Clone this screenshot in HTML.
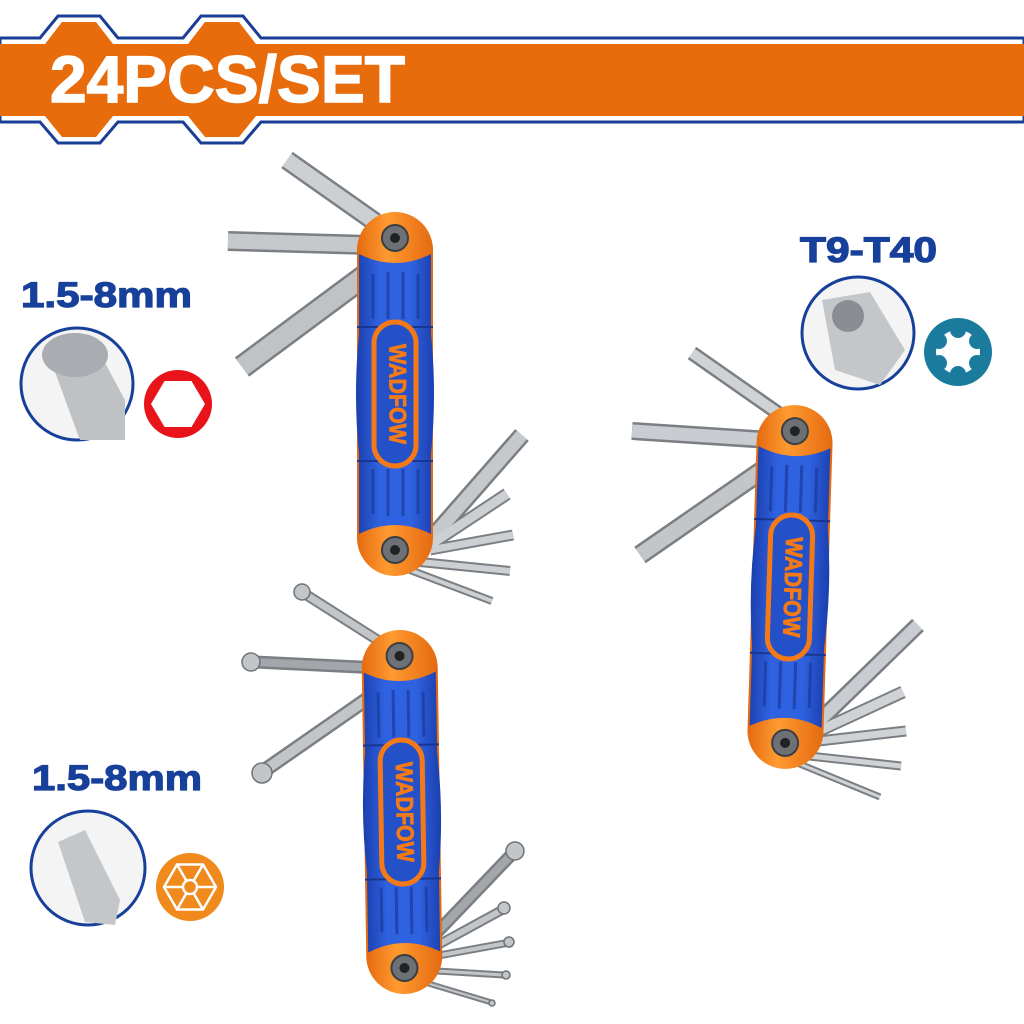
<!DOCTYPE html>
<html><head><meta charset="utf-8"><style>
html,body{margin:0;padding:0;background:#fff;}
svg{display:block;}
</style></head><body>
<svg width="1024" height="1024" viewBox="0 0 1024 1024" xmlns="http://www.w3.org/2000/svg">
<defs>
<linearGradient id="blueg" x1="0" y1="0" x2="1" y2="0">
<stop offset="0" stop-color="#1b3fae"/><stop offset="0.3" stop-color="#2f62e0"/><stop offset="0.7" stop-color="#2f62e0"/><stop offset="1" stop-color="#1b3fae"/>
</linearGradient>
<linearGradient id="orgg" x1="0" y1="0" x2="1" y2="0">
<stop offset="0" stop-color="#e46a10"/><stop offset="0.4" stop-color="#ff9a30"/><stop offset="1" stop-color="#e46a10"/>
</linearGradient>
<g id="handle">
<rect x="-38" y="-182" width="76" height="364" rx="38" fill="url(#orgg)"/>
<path d="M-36,-140 Q0,-122 36,-140 L36,-60 Q42,0 36,60 L36,140 Q0,122 -36,140 L-36,60 Q-42,0 -36,-60 Z" fill="url(#blueg)"/>
<g stroke="#1a3a9c" stroke-width="3" opacity="0.7">
<line x1="-22" y1="-120" x2="-22" y2="-75"/><line x1="-7" y1="-122" x2="-7" y2="-75"/><line x1="8" y1="-122" x2="8" y2="-75"/><line x1="23" y1="-120" x2="23" y2="-75"/>
<line x1="-22" y1="120" x2="-22" y2="75"/><line x1="-7" y1="122" x2="-7" y2="75"/><line x1="8" y1="122" x2="8" y2="75"/><line x1="23" y1="120" x2="23" y2="75"/>
</g>
<line x1="-38" y1="-67" x2="38" y2="-67" stroke="#18368f" stroke-width="2"/>
<line x1="-38" y1="67" x2="38" y2="67" stroke="#18368f" stroke-width="2"/>
<rect x="-21" y="-72" width="42" height="144" rx="21" fill="#2451c8" stroke="#f47a18" stroke-width="5"/>
<text transform="rotate(90)" x="0" y="-1" text-anchor="middle" dominant-baseline="middle" font-family="Liberation Sans, sans-serif" font-weight="bold" font-size="24" fill="#f47a18" stroke="#f47a18" stroke-width="0.8" textLength="100" lengthAdjust="spacingAndGlyphs">WADFOW</text>
<circle cx="0" cy="-156" r="13" fill="#6d7176" stroke="#3b3e42" stroke-width="2"/><circle cx="0" cy="-156" r="5" fill="#222"/>
<circle cx="0" cy="156" r="13" fill="#6d7176" stroke="#3b3e42" stroke-width="2"/><circle cx="0" cy="156" r="5" fill="#222"/>
</g>
</defs>

<!-- Banner -->
<path d="M0,38 L40,38 L58,16 L100,16 L118,38 L183,38 L201,16 L243,16 L261,38 L1024,38 L1024,122 L261,122 L243,143 L201,143 L183,122 L118,122 L100,143 L58,143 L40,122 L0,122 Z" fill="#fff" stroke="#1a3d96" stroke-width="3"/>
<path d="M0,44 L45,44 L62,22 L96,22 L113,44 L188,44 L205,22 L239,22 L256,44 L1024,44 L1024,116 L256,116 L239,137 L205,137 L188,116 L113,116 L96,137 L62,137 L45,116 L0,116 Z" fill="#e86b0c"/>
<text x="50" y="102" font-family="Liberation Sans, sans-serif" font-weight="bold" font-size="66" fill="#fff" stroke="#fff" stroke-width="1.5" textLength="355" lengthAdjust="spacingAndGlyphs">24PCS/SET</text>

<!-- Labels -->
<g font-family="Liberation Sans, sans-serif" font-weight="bold" fill="#17409a" stroke="#17409a" stroke-width="1.2">
<text x="21" y="307" font-size="35" textLength="171" lengthAdjust="spacingAndGlyphs">1.5-8mm</text>
<text x="800" y="262" font-size="35" textLength="137" lengthAdjust="spacingAndGlyphs">T9-T40</text>
<text x="32" y="790" font-size="35" textLength="170" lengthAdjust="spacingAndGlyphs">1.5-8mm</text>
</g>

<!-- Circles -->
<circle cx="77" cy="384" r="56" fill="#f4f4f4" stroke="#17409a" stroke-width="3"/>
<path d="M45,345 L90,335 L125,400 L125,440 L80,440 Z" fill="#bfc2c5"/>
<ellipse cx="75" cy="355" rx="33" ry="22" fill="#a9adb1"/>
<circle cx="858" cy="333" r="56" fill="#f4f4f4" stroke="#17409a" stroke-width="3"/>
<path d="M822,300 L870,292 L905,350 L880,385 L835,370 Z" fill="#c4c7ca"/>
<circle cx="848" cy="316" r="16" fill="#8a8e92"/>
<circle cx="88" cy="868" r="57" fill="#f4f4f4" stroke="#17409a" stroke-width="3"/>
<path d="M58,842 L85,830 L120,900 L115,925 L85,922 Z" fill="#c4c7ca"/>

<!-- red hex -->
<circle cx="178" cy="404" r="34" fill="#e8141a"/>
<polygon points="151,404 164.5,381 191.5,381 205,404 191.5,427 164.5,427" fill="#fff"/>
<!-- torx -->
<circle cx="958" cy="352" r="34" fill="#1b7b9c"/>
<g transform="translate(958,352)">
<circle r="22" fill="#fff"/>
<g fill="#1b7b9c">
<circle cx="22" cy="0" r="8" transform="rotate(30)"/><circle cx="22" cy="0" r="8" transform="rotate(90)"/><circle cx="22" cy="0" r="8" transform="rotate(150)"/>
<circle cx="22" cy="0" r="8" transform="rotate(210)"/><circle cx="22" cy="0" r="8" transform="rotate(270)"/><circle cx="22" cy="0" r="8" transform="rotate(330)"/>
</g>
</g>
<!-- orange hex star -->
<circle cx="190" cy="887" r="34" fill="#f08a1c"/>
<g transform="translate(190,887)" stroke="#fff" stroke-width="2.5" fill="none">
<polygon points="-26,0 -13,-22.5 13,-22.5 26,0 13,22.5 -13,22.5"/>
<line x1="-26" y1="0" x2="26" y2="0"/><line x1="-13" y1="-22.5" x2="13" y2="22.5"/><line x1="13" y1="-22.5" x2="-13" y2="22.5"/>
<circle r="7" fill="#f08a1c"/>
</g>

<!-- Keys: dark outline layer -->
<g stroke="#7b7f83" stroke-linecap="butt">
<line x1="287" y1="160" x2="375" y2="222" stroke-width="20"/>
<line x1="228" y1="241" x2="370" y2="245" stroke-width="20"/>
<line x1="242" y1="367" x2="370" y2="272" stroke-width="24"/>
<line x1="522" y1="435" x2="430" y2="540" stroke-width="18"/>
<line x1="507" y1="494" x2="430" y2="545" stroke-width="13"/>
<line x1="513" y1="535" x2="430" y2="550" stroke-width="11"/>
<line x1="510" y1="571" x2="420" y2="562" stroke-width="10"/>
<line x1="492" y1="601" x2="410" y2="570" stroke-width="8"/>
<line x1="692" y1="353" x2="785" y2="418" stroke-width="15"/>
<line x1="632" y1="431" x2="770" y2="440" stroke-width="18"/>
<line x1="640" y1="555" x2="770" y2="465" stroke-width="20"/>
<line x1="918" y1="625" x2="810" y2="730" stroke-width="17"/>
<line x1="903" y1="692" x2="810" y2="735" stroke-width="13"/>
<line x1="906" y1="731" x2="810" y2="742" stroke-width="11"/>
<line x1="901" y1="766" x2="800" y2="755" stroke-width="9"/>
<line x1="880" y1="797" x2="790" y2="760" stroke-width="7"/>
<line x1="305" y1="594" x2="390" y2="648" stroke-width="11"/>
<line x1="255" y1="662" x2="380" y2="668" stroke-width="13"/>
<line x1="265" y1="770" x2="380" y2="690" stroke-width="15"/>
<line x1="512" y1="854" x2="425" y2="945" stroke-width="13"/>
<line x1="502" y1="910" x2="425" y2="952" stroke-width="10"/>
<line x1="507" y1="943" x2="425" y2="958" stroke-width="8"/>
<line x1="504" y1="975" x2="420" y2="970" stroke-width="7"/>
<line x1="490" y1="1002" x2="410" y2="978" stroke-width="6"/>
</g>
<g stroke-linecap="butt">
<line x1="287" y1="160" x2="375" y2="222" stroke-width="15" stroke="#cdd0d3"/>
<line x1="228" y1="241" x2="370" y2="245" stroke-width="15" stroke="#c6c9cc"/>
<line x1="242" y1="367" x2="370" y2="272" stroke-width="19" stroke="#c0c3c6"/>
<line x1="522" y1="435" x2="430" y2="540" stroke-width="13" stroke="#c6c9cc"/>
<line x1="507" y1="494" x2="430" y2="545" stroke-width="9" stroke="#cdd0d3"/>
<line x1="513" y1="535" x2="430" y2="550" stroke-width="7" stroke="#cdd0d3"/>
<line x1="510" y1="571" x2="420" y2="562" stroke-width="6" stroke="#cdd0d3"/>
<line x1="492" y1="601" x2="410" y2="570" stroke-width="4" stroke="#cdd0d3"/>
<line x1="692" y1="353" x2="785" y2="418" stroke-width="10" stroke="#d0d3d6"/>
<line x1="632" y1="431" x2="770" y2="440" stroke-width="13" stroke="#c9ccd0"/>
<line x1="640" y1="555" x2="770" y2="465" stroke-width="15" stroke="#c3c6c9"/>
<line x1="918" y1="625" x2="810" y2="730" stroke-width="12" stroke="#c9ccd0"/>
<line x1="903" y1="692" x2="810" y2="735" stroke-width="9" stroke="#d0d3d6"/>
<line x1="906" y1="731" x2="810" y2="742" stroke-width="7" stroke="#d0d3d6"/>
<line x1="901" y1="766" x2="800" y2="755" stroke-width="5" stroke="#d0d3d6"/>
<line x1="880" y1="797" x2="790" y2="760" stroke-width="3" stroke="#d0d3d6"/>
<line x1="305" y1="594" x2="390" y2="648" stroke-width="7" stroke="#c3c6c9"/>
<line x1="255" y1="662" x2="380" y2="668" stroke-width="8" stroke="#a3a7ab"/>
<line x1="265" y1="770" x2="380" y2="690" stroke-width="10" stroke="#c3c6c9"/>
<line x1="512" y1="854" x2="425" y2="945" stroke-width="8" stroke="#a3a7ab"/>
<line x1="502" y1="910" x2="425" y2="952" stroke-width="6" stroke="#c3c6c9"/>
<line x1="507" y1="943" x2="425" y2="958" stroke-width="4" stroke="#c3c6c9"/>
<line x1="504" y1="975" x2="420" y2="970" stroke-width="3" stroke="#c3c6c9"/>
<line x1="490" y1="1002" x2="410" y2="978" stroke-width="2" stroke="#c3c6c9"/>
</g>
<g fill="#c3c6c9" stroke="#6f7377" stroke-width="1.5">
<circle cx="302" cy="592" r="8"/><circle cx="251" cy="662" r="9"/><circle cx="262" cy="773" r="10"/>
<circle cx="515" cy="851" r="9"/><circle cx="504" cy="908" r="6"/><circle cx="509" cy="942" r="5"/><circle cx="506" cy="975" r="4"/><circle cx="492" cy="1003" r="3"/>
</g>

<!-- Handles -->
<use href="#handle" transform="translate(395,394)"/>
<use href="#handle" transform="translate(790,587) rotate(1.8)"/>
<use href="#handle" transform="translate(402,812) rotate(-0.9)"/>
</svg>
</body></html>
